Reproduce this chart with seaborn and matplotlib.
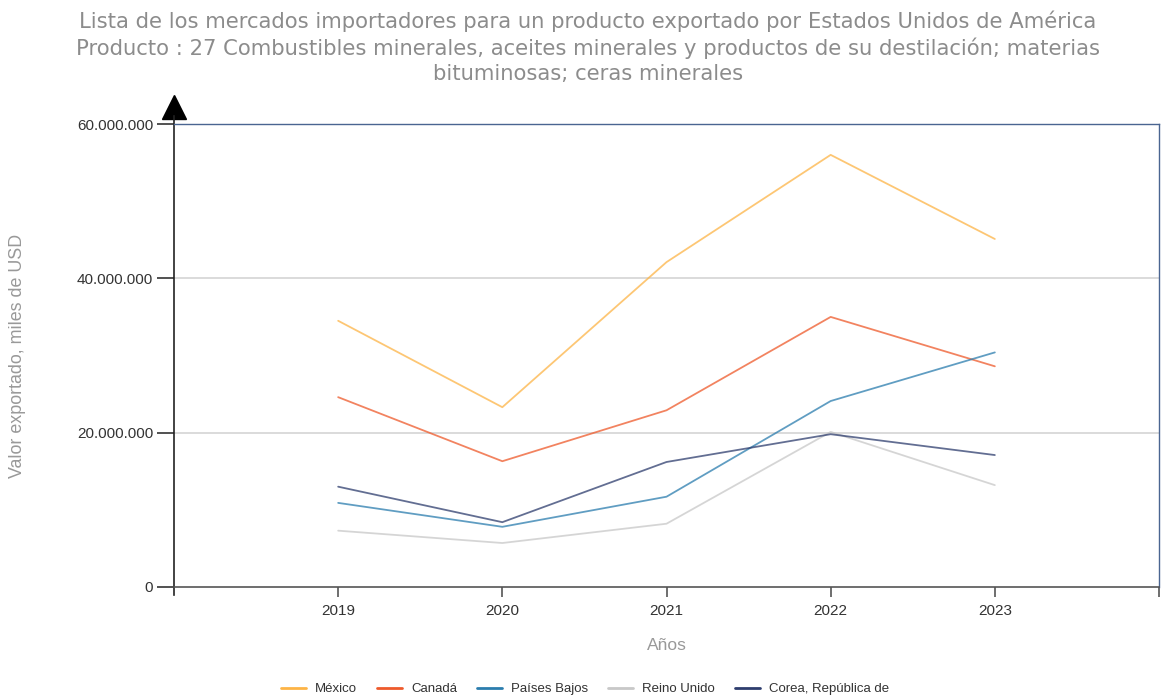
import pandas as pd
import matplotlib.pyplot as plt
import matplotlib.transforms as mtransforms
from matplotlib.ticker import FuncFormatter
import seaborn as sns

# Datos (miles de USD)
anios = [2019, 2020, 2021, 2022, 2023]
mercados = ["México", "Canadá", "Países Bajos", "Reino Unido", "Corea, República de"]
mexico = [34.5e6, 23.3e6, 42.1e6, 56.0e6, 45.1e6]
canada = [24.6e6, 16.3e6, 22.9e6, 35.0e6, 28.6e6]
paises_bajos = [10.9e6, 7.8e6, 11.7e6, 24.1e6, 30.4e6]
reino_unido = [7.3e6, 5.7e6, 8.2e6, 20.1e6, 13.2e6]
corea = [13.0e6, 8.4e6, 16.2e6, 19.8e6, 17.1e6]
colores = ["#fdb446", "#ee5a2b", "#2b7dae", "#c8c8c8", "#2e3d6e"]

series = [mexico, canada, paises_bajos, reino_unido, corea]
filas = []
for nombre, valores in zip(mercados, series):
    for a, v in zip(anios, valores):
        filas.append({"Año": a, "Valor": v, "Mercado": nombre})
df = pd.DataFrame(filas)

sns.set_theme(style="white")
plt.rcParams["font.family"] = ["Liberation Sans", "DejaVu Sans"]

fig = plt.figure(figsize=(11.61, 6.97), dpi=100)
ax = fig.add_axes([174 / 1161, 1 - 587 / 697, 985 / 1161, 463 / 697])

sns.lineplot(data=df, x="Año", y="Valor", hue="Mercado", hue_order=mercados,
             palette=colores, linewidth=1.3, alpha=0.75, ax=ax, legend=True)

ax.set_xlim(2018, 2024)
ax.set_ylim(0, 60e6)
ax.set_xticks(anios)
ax.set_xticks([2024], minor=True)
ax.set_yticks([0, 20e6, 40e6, 60e6])
ax.yaxis.set_major_formatter(FuncFormatter(lambda v, p: f"{int(v):,}".replace(",", ".")))

# Cuadrícula y bordes
for y in [20e6, 40e6]:
    ax.axhline(y, color="#d4d4d4", linewidth=1.2, zorder=0)
ax.spines["top"].set_color("#4a6591")
ax.spines["right"].set_color("#4a6591")
ax.spines["top"].set_linewidth(1.0)
ax.spines["right"].set_linewidth(1.0)
ax.spines["left"].set_color("#222222")
ax.spines["bottom"].set_color("#555555")
ax.spines["left"].set_linewidth(1.2)
ax.spines["bottom"].set_linewidth(1.2)
ax.spines["left"].set_bounds(-1.05e6, 61e6)

ax.tick_params(axis="y", which="major", length=12, width=1.2, color="#333333",
               direction="out", left=True, labelsize=11, labelcolor="#333333", pad=3)
ax.tick_params(axis="x", which="both", length=7, width=1.2, color="#555555",
               direction="out", bottom=True, labelsize=11, labelcolor="#333333", pad=5)

# Flecha en el eje Y
offset = mtransforms.offset_copy(ax.transAxes, fig=fig, x=0, y=17, units="dots")
ax.plot([0], [1], marker="^", markersize=17, color="black", transform=offset, clip_on=False)

# Etiquetas
ax.set_xlabel("Años", fontsize=12.5, color="#999999")
ax.set_ylabel("Valor exportado, miles de USD", fontsize=12.9, color="#999999")
ax.xaxis.set_label_coords(0.5, (587 - 646) / 463)
ax.xaxis.label.set_va("center")
ax.yaxis.set_label_coords((18 - 174) / 985, 0.5)
ax.yaxis.label.set_va("center")

titulo = ("Lista de los mercados importadores para un producto exportado por Estados Unidos de América\n"
          "Producto : 27 Combustibles minerales, aceites minerales y productos de su destilación; materias\n"
          "bituminosas; ceras minerales")
fig.text(588 / 1161, 1 - 11 / 697, titulo, ha="center", va="top", fontsize=15.2,
         color="#8c8c8c", family="DejaVu Sans", linespacing=1.3)

ax.get_legend().remove()
leg = fig.legend(*ax.get_legend_handles_labels(), loc="center", bbox_to_anchor=(585 / 1161, 1 - 689 / 697),
                 ncol=5, frameon=False, fontsize=9.5, handlelength=1.9, columnspacing=1.5,
                 handletextpad=0.68, labelcolor="#333333")
for h in leg.legend_handles:
    h.set_alpha(1)
    h.set_linewidth(2)

plt.savefig("out.png", dpi=100)
